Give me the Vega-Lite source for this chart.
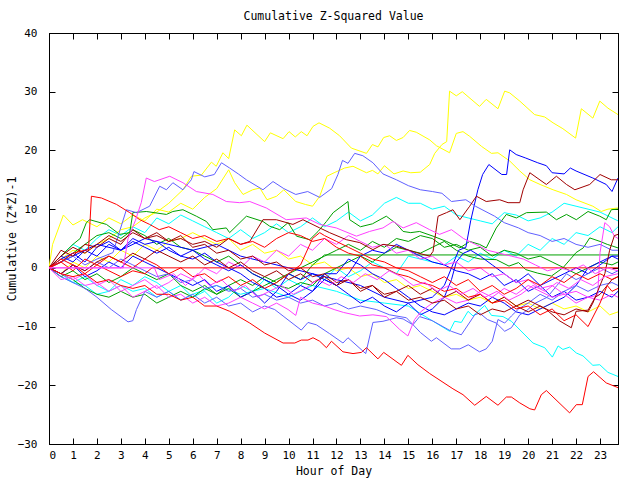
{
"$schema": "https://vega.github.io/schema/vega-lite/v6.json",
"width": 569, "height": 411,
"autosize": {"type": "none"},
"padding": {"left": 49, "top": 33, "right": 22, "bottom": 36},
"background": "white",
"title": {"text": "Cumulative Z-Squared Value", "font": "DejaVu Sans Mono", "fontSize": 11.5, "fontWeight": "normal", "color": "black", "anchor": "middle", "offset": 5},
"config": {
  "view": {"stroke": "black", "strokeWidth": 1},
  "axis": {"grid": false, "domainColor": "black", "tickColor": "black", "tickSize": -6, "labelFont": "DejaVu Sans Mono", "labelFontSize": 11, "labelColor": "black", "titleFont": "DejaVu Sans Mono", "titleFontSize": 11.5, "titleFontWeight": "normal", "titleColor": "black"}
},
"data": {"values": [
{"s":"c1","h":0,"v":0},{"s":"c1","h":0.5,"v":-1.5},{"s":"c1","h":1,"v":-2.5},{"s":"c1","h":1.5,"v":-3},{"s":"c1","h":2,"v":-4.5},{"s":"c1","h":2.5,"v":-4},{"s":"c1","h":3,"v":-3},{"s":"c1","h":3.5,"v":-4},{"s":"c1","h":4,"v":-3.5},{"s":"c1","h":4.5,"v":-5},{"s":"c1","h":5,"v":-4},{"s":"c1","h":5.5,"v":-5.5},{"s":"c1","h":6,"v":-4.5},{"s":"c1","h":7,"v":-3},{"s":"c1","h":8,"v":-4.5},{"s":"c1","h":9,"v":-3.5},{"s":"c1","h":10,"v":-5},{"s":"c1","h":11,"v":-3},{"s":"c1","h":12,"v":-4},{"s":"c1","h":13,"v":-5.5},{"s":"c1","h":14,"v":-6},{"s":"c1","h":15,"v":-6.5},{"s":"c1","h":15.47,"v":-7.7},{"s":"c1","h":16.72,"v":-10.8},{"s":"c1","h":16.93,"v":-9.1},{"s":"c1","h":17.21,"v":-9.3},{"s":"c1","h":17.49,"v":-7.4},{"s":"c1","h":17.7,"v":-8.2},{"s":"c1","h":18.19,"v":-6.4},{"s":"c1","h":18.47,"v":-8.1},{"s":"c1","h":18.95,"v":-8.3},{"s":"c1","h":19.3,"v":-9.1},{"s":"c1","h":20.2,"v":-12.8},{"s":"c1","h":20.69,"v":-13.6},{"s":"c1","h":21.01,"v":-15.2},{"s":"c1","h":21.25,"v":-13.3},{"s":"c1","h":21.45,"v":-13.9},{"s":"c1","h":21.73,"v":-13.5},{"s":"c1","h":22.01,"v":-14.5},{"s":"c1","h":22.29,"v":-15},{"s":"c1","h":22.7,"v":-16.6},{"s":"c1","h":22.99,"v":-16.5},{"s":"c1","h":23.33,"v":-17.8},{"s":"c1","h":23.75,"v":-18.5},
{"s":"c2","h":0,"v":0},{"s":"c2","h":0.5,"v":2},{"s":"c2","h":1,"v":4},{"s":"c2","h":1.5,"v":3},{"s":"c2","h":2,"v":5},{"s":"c2","h":2.5,"v":6.5},{"s":"c2","h":3,"v":5.5},{"s":"c2","h":3.5,"v":7},{"s":"c2","h":4,"v":6},{"s":"c2","h":4.5,"v":8.5},{"s":"c2","h":5,"v":7.5},{"s":"c2","h":5.5,"v":9},{"s":"c2","h":6,"v":8},{"s":"c2","h":6.5,"v":7},{"s":"c2","h":7,"v":6},{"s":"c2","h":7.5,"v":5},{"s":"c2","h":8,"v":6.5},{"s":"c2","h":8.5,"v":5},{"s":"c2","h":9,"v":6},{"s":"c2","h":9.5,"v":7.5},{"s":"c2","h":10,"v":6},{"s":"c2","h":10.5,"v":7},{"s":"c2","h":11,"v":8.5},{"s":"c2","h":11.5,"v":7},{"s":"c2","h":12,"v":8},{"s":"c2","h":12.5,"v":9.5},{"s":"c2","h":13,"v":8},{"s":"c2","h":13.5,"v":9},{"s":"c2","h":14,"v":11},{"s":"c2","h":14.5,"v":12},{"s":"c2","h":15,"v":11},{"s":"c2","h":15.5,"v":11},{"s":"c2","h":16,"v":10},{"s":"c2","h":16.5,"v":10.5},{"s":"c2","h":17,"v":9},{"s":"c2","h":17.5,"v":8.5},{"s":"c2","h":18,"v":8},{"s":"c2","h":18.5,"v":7.5},{"s":"c2","h":19,"v":9.4},{"s":"c2","h":19.5,"v":9},{"s":"c2","h":20,"v":8},{"s":"c2","h":20.5,"v":8.5},{"s":"c2","h":21,"v":9.5},{"s":"c2","h":21.5,"v":11},{"s":"c2","h":22,"v":10.5},{"s":"c2","h":22.5,"v":10},{"s":"c2","h":23,"v":9.5},{"s":"c2","h":23.5,"v":8.5},{"s":"c2","h":23.75,"v":8},
{"s":"c3","h":0,"v":0},{"s":"c3","h":0.5,"v":-1},{"s":"c3","h":1,"v":-2.5},{"s":"c3","h":1.5,"v":-1.5},{"s":"c3","h":2,"v":-3},{"s":"c3","h":2.5,"v":-4},{"s":"c3","h":3,"v":-2},{"s":"c3","h":3.5,"v":-3},{"s":"c3","h":4,"v":-1.5},{"s":"c3","h":4.5,"v":-2.5},{"s":"c3","h":5,"v":-4},{"s":"c3","h":5.5,"v":-3},{"s":"c3","h":6,"v":-5},{"s":"c3","h":6.5,"v":-4},{"s":"c3","h":7,"v":-6},{"s":"c3","h":7.5,"v":-5},{"s":"c3","h":8,"v":-3},{"s":"c3","h":8.5,"v":-4},{"s":"c3","h":9,"v":-2},{"s":"c3","h":9.5,"v":-3.5},{"s":"c3","h":10,"v":-2},{"s":"c3","h":10.5,"v":-3},{"s":"c3","h":11,"v":-1},{"s":"c3","h":11.5,"v":-2},{"s":"c3","h":12,"v":0},{"s":"c3","h":12.5,"v":-1.5},{"s":"c3","h":13,"v":-0.5},{"s":"c3","h":13.5,"v":1},{"s":"c3","h":14,"v":0},{"s":"c3","h":14.5,"v":-1},{"s":"c3","h":15,"v":2},{"s":"c3","h":15.5,"v":1.5},{"s":"c3","h":16,"v":1},{"s":"c3","h":16.5,"v":0.5},{"s":"c3","h":17,"v":2},{"s":"c3","h":17.5,"v":1},{"s":"c3","h":18,"v":2.5},{"s":"c3","h":18.5,"v":1.5},{"s":"c3","h":19,"v":3},{"s":"c3","h":19.5,"v":2},{"s":"c3","h":20,"v":4},{"s":"c3","h":20.5,"v":3},{"s":"c3","h":21,"v":5},{"s":"c3","h":21.5,"v":4},{"s":"c3","h":22,"v":6},{"s":"c3","h":22.5,"v":5.5},{"s":"c3","h":23,"v":7},{"s":"c3","h":23.5,"v":6},{"s":"c3","h":23.75,"v":7},
{"s":"y1","h":0,"v":0},{"s":"y1","h":0.5,"v":1.5},{"s":"y1","h":1,"v":3},{"s":"y1","h":1.5,"v":2.5},{"s":"y1","h":2,"v":4},{"s":"y1","h":2.5,"v":5},{"s":"y1","h":3,"v":6.5},{"s":"y1","h":3.5,"v":7},{"s":"y1","h":4,"v":8.5},{"s":"y1","h":4.5,"v":9.5},{"s":"y1","h":5,"v":11},{"s":"y1","h":5.59,"v":13.3},{"s":"y1","h":5.94,"v":15.6},{"s":"y1","h":6.36,"v":15.8},{"s":"y1","h":6.78,"v":18},{"s":"y1","h":6.98,"v":17.3},{"s":"y1","h":7.26,"v":19.6},{"s":"y1","h":7.5,"v":18.6},{"s":"y1","h":7.75,"v":23.5},{"s":"y1","h":8.03,"v":22.5},{"s":"y1","h":8.26,"v":24.3},{"s":"y1","h":9,"v":21.5},{"s":"y1","h":9.24,"v":23},{"s":"y1","h":9.77,"v":22},{"s":"y1","h":10.02,"v":23.2},{"s":"y1","h":10.28,"v":22.3},{"s":"y1","h":10.53,"v":23.2},{"s":"y1","h":10.77,"v":22.5},{"s":"y1","h":11.02,"v":24.1},{"s":"y1","h":11.27,"v":24.7},{"s":"y1","h":11.71,"v":23.8},{"s":"y1","h":12.13,"v":22.5},{"s":"y1","h":12.62,"v":20.4},{"s":"y1","h":13.25,"v":19.5},{"s":"y1","h":13.5,"v":21},{"s":"y1","h":13.73,"v":20.6},{"s":"y1","h":13.97,"v":22.2},{"s":"y1","h":14.22,"v":22.5},{"s":"y1","h":14.5,"v":21.7},{"s":"y1","h":14.78,"v":22.2},{"s":"y1","h":15.05,"v":23.4},{"s":"y1","h":15.33,"v":23.1},{"s":"y1","h":15.89,"v":21.8},{"s":"y1","h":16.17,"v":20.8},{"s":"y1","h":16.72,"v":19.6},{"s":"y1","h":17,"v":22.9},{"s":"y1","h":17.28,"v":23.2},{"s":"y1","h":17.56,"v":22.4},{"s":"y1","h":18.05,"v":20.7},{"s":"y1","h":18.47,"v":19.5},{"s":"y1","h":18.74,"v":19.6},{"s":"y1","h":19.23,"v":18.2},{"s":"y1","h":19.65,"v":16.5},{"s":"y1","h":20.07,"v":15},{"s":"y1","h":20.5,"v":14.2},{"s":"y1","h":21.04,"v":13.3},{"s":"y1","h":21.6,"v":12.5},{"s":"y1","h":22,"v":11.6},{"s":"y1","h":22.7,"v":10.5},{"s":"y1","h":23.05,"v":9.6},{"s":"y1","h":23.33,"v":10},{"s":"y1","h":23.75,"v":10.2},
{"s":"y2","h":0,"v":0},{"s":"y2","h":0.15,"v":4},{"s":"y2","h":0.6,"v":9},{"s":"y2","h":1,"v":7.3},{"s":"y2","h":1.4,"v":8.2},{"s":"y2","h":2,"v":7},{"s":"y2","h":2.5,"v":8.5},{"s":"y2","h":3,"v":7.5},{"s":"y2","h":3.5,"v":9},{"s":"y2","h":4,"v":8},{"s":"y2","h":4.5,"v":10},{"s":"y2","h":5,"v":9.5},{"s":"y2","h":5.5,"v":11},{"s":"y2","h":6,"v":10},{"s":"y2","h":6.5,"v":12},{"s":"y2","h":7,"v":13.5},{"s":"y2","h":7.5,"v":16.7},{"s":"y2","h":7.75,"v":14.5},{"s":"y2","h":8.1,"v":12.5},{"s":"y2","h":8.5,"v":13.3},{"s":"y2","h":8.8,"v":13.6},{"s":"y2","h":9.1,"v":11.6},{"s":"y2","h":9.5,"v":12.2},{"s":"y2","h":9.8,"v":13.3},{"s":"y2","h":10.3,"v":11.3},{"s":"y2","h":10.7,"v":10.8},{"s":"y2","h":11,"v":10.5},{"s":"y2","h":11.3,"v":12.2},{"s":"y2","h":11.6,"v":15.6},{"s":"y2","h":11.9,"v":16.2},{"s":"y2","h":12.34,"v":17},{"s":"y2","h":12.69,"v":17.3},{"s":"y2","h":13.25,"v":16.2},{"s":"y2","h":13.5,"v":16.6},{"s":"y2","h":13.73,"v":16},{"s":"y2","h":14,"v":17.4},{"s":"y2","h":14.4,"v":16},{"s":"y2","h":14.78,"v":16.5},{"s":"y2","h":15.1,"v":16.2},{"s":"y2","h":15.5,"v":16.3},{"s":"y2","h":15.89,"v":17.6},{"s":"y2","h":16.1,"v":19.5},{"s":"y2","h":16.4,"v":21},{"s":"y2","h":16.6,"v":21.5},{"s":"y2","h":16.72,"v":30.1},{"s":"y2","h":17,"v":29.3},{"s":"y2","h":17.25,"v":30},{"s":"y2","h":17.97,"v":27.5},{"s":"y2","h":18.25,"v":28.7},{"s":"y2","h":18.74,"v":27.1},{"s":"y2","h":19.02,"v":30.1},{"s":"y2","h":19.23,"v":29.8},{"s":"y2","h":19.65,"v":28.4},{"s":"y2","h":20.27,"v":26.1},{"s":"y2","h":20.69,"v":25.7},{"s":"y2","h":21.04,"v":24.7},{"s":"y2","h":21.45,"v":23.7},{"s":"y2","h":21.98,"v":22.1},{"s":"y2","h":22.22,"v":27.1},{"s":"y2","h":22.7,"v":25.5},{"s":"y2","h":22.99,"v":28.4},{"s":"y2","h":23.33,"v":27.2},{"s":"y2","h":23.75,"v":26.1},
{"s":"y3","h":0,"v":0},{"s":"y3","h":0.5,"v":-1},{"s":"y3","h":1,"v":1},{"s":"y3","h":1.5,"v":0},{"s":"y3","h":2,"v":2},{"s":"y3","h":2.5,"v":1},{"s":"y3","h":3,"v":3},{"s":"y3","h":3.5,"v":2},{"s":"y3","h":4,"v":4},{"s":"y3","h":4.5,"v":3},{"s":"y3","h":5,"v":4.5},{"s":"y3","h":5.5,"v":5},{"s":"y3","h":6,"v":6},{"s":"y3","h":6.5,"v":5},{"s":"y3","h":7,"v":4},{"s":"y3","h":7.5,"v":5},{"s":"y3","h":8,"v":3},{"s":"y3","h":8.5,"v":4},{"s":"y3","h":9,"v":2.5},{"s":"y3","h":9.5,"v":3},{"s":"y3","h":10,"v":1.5},{"s":"y3","h":10.5,"v":2},{"s":"y3","h":11,"v":0.5},{"s":"y3","h":11.5,"v":1},{"s":"y3","h":12,"v":-0.5},{"s":"y3","h":12.5,"v":0},{"s":"y3","h":13,"v":-1.5},{"s":"y3","h":13.5,"v":-1},{"s":"y3","h":14,"v":-2.5},{"s":"y3","h":14.5,"v":-2},{"s":"y3","h":15,"v":-3.5},{"s":"y3","h":15.5,"v":-3},{"s":"y3","h":16,"v":-4},{"s":"y3","h":16.5,"v":-5},{"s":"y3","h":17,"v":-4.5},{"s":"y3","h":17.5,"v":-5.5},{"s":"y3","h":18,"v":-5},{"s":"y3","h":18.5,"v":-6},{"s":"y3","h":19,"v":-5},{"s":"y3","h":19.5,"v":-6.5},{"s":"y3","h":20,"v":-6},{"s":"y3","h":20.5,"v":-7},{"s":"y3","h":21,"v":-6},{"s":"y3","h":21.5,"v":-7},{"s":"y3","h":22,"v":-6.5},{"s":"y3","h":22.5,"v":-7.5},{"s":"y3","h":23,"v":-6.5},{"s":"y3","h":23.4,"v":-8},{"s":"y3","h":23.75,"v":-7.5},
{"s":"g1","h":0,"v":0},{"s":"g1","h":0.5,"v":2},{"s":"g1","h":1,"v":4},{"s":"g1","h":1.3,"v":5},{"s":"g1","h":1.56,"v":7.7},{"s":"g1","h":1.7,"v":8.2},{"s":"g1","h":2.4,"v":7.4},{"s":"g1","h":2.95,"v":5.7},{"s":"g1","h":3.37,"v":6},{"s":"g1","h":3.5,"v":9.4},{"s":"g1","h":4.06,"v":9.6},{"s":"g1","h":4.9,"v":9.1},{"s":"g1","h":5.17,"v":9.6},{"s":"g1","h":5.59,"v":9.9},{"s":"g1","h":6.15,"v":8.8},{"s":"g1","h":6.57,"v":7.9},{"s":"g1","h":6.84,"v":6.5},{"s":"g1","h":7.4,"v":6.8},{"s":"g1","h":7.54,"v":6},{"s":"g1","h":8.24,"v":8.8},{"s":"g1","h":8.93,"v":7.9},{"s":"g1","h":9.21,"v":7.1},{"s":"g1","h":9.63,"v":6.5},{"s":"g1","h":9.98,"v":7.7},{"s":"g1","h":10.33,"v":5.4},{"s":"g1","h":10.88,"v":4.8},{"s":"g1","h":11.23,"v":6.2},{"s":"g1","h":11.58,"v":7.9},{"s":"g1","h":11.86,"v":9.4},{"s":"g1","h":12.48,"v":11.3},{"s":"g1","h":12.55,"v":8.2},{"s":"g1","h":13,"v":7},{"s":"g1","h":13.5,"v":7.5},{"s":"g1","h":14.08,"v":8.8},{"s":"g1","h":14.5,"v":7.5},{"s":"g1","h":14.78,"v":6.2},{"s":"g1","h":15.1,"v":6},{"s":"g1","h":15.47,"v":6.2},{"s":"g1","h":16.03,"v":5.4},{"s":"g1","h":16.59,"v":4.5},{"s":"g1","h":17.15,"v":3.4},{"s":"g1","h":17.56,"v":4.5},{"s":"g1","h":17.97,"v":4},{"s":"g1","h":18.25,"v":3.4},{"s":"g1","h":18.67,"v":6.8},{"s":"g1","h":19.09,"v":9.1},{"s":"g1","h":19.51,"v":8.5},{"s":"g1","h":19.93,"v":9.4},{"s":"g1","h":20.76,"v":9.5},{"s":"g1","h":21.18,"v":8.2},{"s":"g1","h":21.6,"v":9.1},{"s":"g1","h":22.01,"v":8.2},{"s":"g1","h":22.5,"v":9.6},{"s":"g1","h":22.99,"v":8.8},{"s":"g1","h":23.26,"v":8.2},{"s":"g1","h":23.47,"v":9.9},{"s":"g1","h":23.75,"v":10},
{"s":"g2","h":0,"v":0},{"s":"g2","h":0.5,"v":-1.5},{"s":"g2","h":1,"v":-0.5},{"s":"g2","h":1.5,"v":-2},{"s":"g2","h":2,"v":-1},{"s":"g2","h":2.5,"v":-2.5},{"s":"g2","h":3,"v":-1.5},{"s":"g2","h":3.5,"v":0},{"s":"g2","h":4,"v":-1},{"s":"g2","h":4.5,"v":-2},{"s":"g2","h":5,"v":-1},{"s":"g2","h":5.5,"v":-3},{"s":"g2","h":6,"v":-4},{"s":"g2","h":6.5,"v":-3},{"s":"g2","h":7,"v":-4.5},{"s":"g2","h":7.5,"v":-3.5},{"s":"g2","h":8,"v":-5},{"s":"g2","h":8.5,"v":-4},{"s":"g2","h":9,"v":-3},{"s":"g2","h":9.5,"v":-2},{"s":"g2","h":10,"v":-1},{"s":"g2","h":10.5,"v":-2},{"s":"g2","h":11,"v":0.5},{"s":"g2","h":11.3,"v":1.5},{"s":"g2","h":11.5,"v":2.2},{"s":"g2","h":23.75,"v":2.2},
{"s":"g3","h":0,"v":0},{"s":"g3","h":0.5,"v":1},{"s":"g3","h":1,"v":2.5},{"s":"g3","h":1.5,"v":4},{"s":"g3","h":2,"v":5.5},{"s":"g3","h":2.5,"v":6},{"s":"g3","h":3,"v":5},{"s":"g3","h":3.5,"v":6.5},{"s":"g3","h":4,"v":5.5},{"s":"g3","h":4.5,"v":4},{"s":"g3","h":5,"v":5},{"s":"g3","h":5.5,"v":3.5},{"s":"g3","h":6,"v":3},{"s":"g3","h":6.5,"v":2},{"s":"g3","h":7,"v":1},{"s":"g3","h":7.5,"v":2},{"s":"g3","h":8,"v":0.5},{"s":"g3","h":8.5,"v":-1},{"s":"g3","h":9,"v":-2},{"s":"g3","h":9.5,"v":-3},{"s":"g3","h":10,"v":-3.5},{"s":"g3","h":10.5,"v":-2.5},{"s":"g3","h":11,"v":-3},{"s":"g3","h":11.5,"v":-1},{"s":"g3","h":12,"v":0},{"s":"g3","h":12.5,"v":1},{"s":"g3","h":13,"v":2},{"s":"g3","h":13.5,"v":1},{"s":"g3","h":14,"v":2.5},{"s":"g3","h":14.5,"v":3.5},{"s":"g3","h":15,"v":3},{"s":"g3","h":15.5,"v":2.5},{"s":"g3","h":16,"v":3.5},{"s":"g3","h":16.5,"v":4.5},{"s":"g3","h":17,"v":3},{"s":"g3","h":17.5,"v":2},{"s":"g3","h":18,"v":1.5},{"s":"g3","h":18.67,"v":1.4},{"s":"g3","h":19.2,"v":0.3},{"s":"g3","h":19.6,"v":0.9},{"s":"g3","h":19.9,"v":-0.3},{"s":"g3","h":20.4,"v":-0.9},{"s":"g3","h":20.97,"v":-1.4},{"s":"g3","h":21.45,"v":0},{"s":"g3","h":22,"v":2.6},{"s":"g3","h":22.3,"v":3.4},{"s":"g3","h":22.57,"v":5.1},{"s":"g3","h":23,"v":4.5},{"s":"g3","h":23.3,"v":4},{"s":"g3","h":23.75,"v":3.4},
{"s":"g4","h":0,"v":0},{"s":"g4","h":0.5,"v":-1},{"s":"g4","h":1,"v":-2},{"s":"g4","h":1.5,"v":-3.5},{"s":"g4","h":2,"v":-4.5},{"s":"g4","h":2.5,"v":-5},{"s":"g4","h":3,"v":-4},{"s":"g4","h":3.5,"v":-5},{"s":"g4","h":4,"v":-4.5},{"s":"g4","h":4.5,"v":-6},{"s":"g4","h":5,"v":-5},{"s":"g4","h":5.5,"v":-4},{"s":"g4","h":6,"v":-5},{"s":"g4","h":6.5,"v":-3.5},{"s":"g4","h":7,"v":-4.5},{"s":"g4","h":7.5,"v":-3},{"s":"g4","h":8,"v":-2},{"s":"g4","h":8.5,"v":-3},{"s":"g4","h":9,"v":-1.5},{"s":"g4","h":9.5,"v":-2.5},{"s":"g4","h":10,"v":-1},{"s":"g4","h":10.5,"v":0},{"s":"g4","h":11,"v":1},{"s":"g4","h":11.5,"v":2},{"s":"g4","h":12,"v":3},{"s":"g4","h":12.5,"v":4},{"s":"g4","h":13,"v":3},{"s":"g4","h":13.5,"v":4.5},{"s":"g4","h":14,"v":3.5},{"s":"g4","h":14.5,"v":5},{"s":"g4","h":15,"v":4.5},{"s":"g4","h":15.5,"v":5.5},{"s":"g4","h":16,"v":5},{"s":"g4","h":16.5,"v":3.5},{"s":"g4","h":17,"v":4},{"s":"g4","h":17.5,"v":3},{"s":"g4","h":18,"v":3.5},{"s":"g4","h":18.5,"v":2},{"s":"g4","h":19,"v":3},{"s":"g4","h":19.5,"v":2.5},{"s":"g4","h":20,"v":1.5},{"s":"g4","h":20.5,"v":2},{"s":"g4","h":21,"v":1},{"s":"g4","h":21.5,"v":0},{"s":"g4","h":22,"v":-1},{"s":"g4","h":22.5,"v":0},{"s":"g4","h":23,"v":1},{"s":"g4","h":23.5,"v":0.5},{"s":"g4","h":23.75,"v":1},
{"s":"b1","h":0,"v":0},{"s":"b1","h":1,"v":2},{"s":"b1","h":2,"v":4},{"s":"b1","h":3,"v":3},{"s":"b1","h":4,"v":5},{"s":"b1","h":5,"v":4},{"s":"b1","h":6,"v":3},{"s":"b1","h":7,"v":4},{"s":"b1","h":8,"v":2},{"s":"b1","h":9,"v":1},{"s":"b1","h":10,"v":0},{"s":"b1","h":11,"v":-1},{"s":"b1","h":12,"v":-2},{"s":"b1","h":13,"v":-3},{"s":"b1","h":14,"v":-5},{"s":"b1","h":15,"v":-6},{"s":"b1","h":16,"v":-5},{"s":"b1","h":16.5,"v":-3},{"s":"b1","h":16.8,"v":0},{"s":"b1","h":17.1,"v":3},{"s":"b1","h":17.4,"v":3.5},{"s":"b1","h":17.6,"v":8},{"s":"b1","h":17.9,"v":13.3},{"s":"b1","h":18.1,"v":15.9},{"s":"b1","h":18.36,"v":17.6},{"s":"b1","h":18.9,"v":15.9},{"s":"b1","h":19.1,"v":15.9},{"s":"b1","h":19.23,"v":20.1},{"s":"b1","h":19.5,"v":19.3},{"s":"b1","h":19.9,"v":18.7},{"s":"b1","h":20.4,"v":17.9},{"s":"b1","h":20.76,"v":17.4},{"s":"b1","h":21,"v":16.2},{"s":"b1","h":21.5,"v":16},{"s":"b1","h":21.76,"v":17},{"s":"b1","h":22,"v":16.5},{"s":"b1","h":22.7,"v":15.3},{"s":"b1","h":23.26,"v":14.2},{"s":"b1","h":23.5,"v":13},{"s":"b1","h":23.75,"v":15.3},
{"s":"b2","h":0,"v":0},{"s":"b2","h":0.5,"v":1.5},{"s":"b2","h":1,"v":2.5},{"s":"b2","h":1.5,"v":1},{"s":"b2","h":2,"v":3.5},{"s":"b2","h":2.5,"v":4.5},{"s":"b2","h":3,"v":3},{"s":"b2","h":3.5,"v":5},{"s":"b2","h":4,"v":4},{"s":"b2","h":4.5,"v":4.5},{"s":"b2","h":5,"v":3},{"s":"b2","h":5.5,"v":2},{"s":"b2","h":6,"v":3},{"s":"b2","h":6.5,"v":1.5},{"s":"b2","h":7,"v":0.5},{"s":"b2","h":7.5,"v":-0.5},{"s":"b2","h":8,"v":0.5},{"s":"b2","h":8.5,"v":-1},{"s":"b2","h":9,"v":-2},{"s":"b2","h":9.5,"v":-3},{"s":"b2","h":10,"v":-4.5},{"s":"b2","h":10.5,"v":-3},{"s":"b2","h":11,"v":-4},{"s":"b2","h":11.5,"v":-2},{"s":"b2","h":12,"v":-3},{"s":"b2","h":12.5,"v":-4.5},{"s":"b2","h":13,"v":-6},{"s":"b2","h":13.5,"v":-5},{"s":"b2","h":14,"v":-6.5},{"s":"b2","h":14.5,"v":-7.5},{"s":"b2","h":15,"v":-6},{"s":"b2","h":15.5,"v":-8},{"s":"b2","h":16,"v":-7},{"s":"b2","h":16.5,"v":-5},{"s":"b2","h":16.8,"v":-2},{"s":"b2","h":17,"v":1},{"s":"b2","h":17.3,"v":2.5},{"s":"b2","h":17.6,"v":3},{"s":"b2","h":18,"v":2},{"s":"b2","h":18.5,"v":0.5},{"s":"b2","h":19,"v":-1},{"s":"b2","h":19.5,"v":-2.5},{"s":"b2","h":20,"v":-1},{"s":"b2","h":20.5,"v":-3},{"s":"b2","h":21,"v":-2},{"s":"b2","h":21.5,"v":-1},{"s":"b2","h":22,"v":0},{"s":"b2","h":22.5,"v":-1},{"s":"b2","h":23,"v":0.5},{"s":"b2","h":23.5,"v":2},{"s":"b2","h":23.75,"v":2},
{"s":"b3","h":0,"v":0},{"s":"b3","h":0.5,"v":-1},{"s":"b3","h":1,"v":0.5},{"s":"b3","h":1.5,"v":-1.5},{"s":"b3","h":2,"v":-0.5},{"s":"b3","h":2.5,"v":1},{"s":"b3","h":3,"v":0},{"s":"b3","h":3.5,"v":2},{"s":"b3","h":4,"v":1},{"s":"b3","h":4.5,"v":0},{"s":"b3","h":5,"v":-1},{"s":"b3","h":5.5,"v":-2},{"s":"b3","h":6,"v":-3},{"s":"b3","h":6.5,"v":-2},{"s":"b3","h":7,"v":-4},{"s":"b3","h":7.5,"v":-3},{"s":"b3","h":8,"v":-5},{"s":"b3","h":8.5,"v":-4},{"s":"b3","h":9,"v":-6},{"s":"b3","h":9.5,"v":-4},{"s":"b3","h":10,"v":-1},{"s":"b3","h":10.5,"v":-2},{"s":"b3","h":11,"v":-1},{"s":"b3","h":11.5,"v":-2},{"s":"b3","h":12,"v":-3},{"s":"b3","h":12.5,"v":-1},{"s":"b3","h":13,"v":2},{"s":"b3","h":13.5,"v":3},{"s":"b3","h":14,"v":2.5},{"s":"b3","h":14.5,"v":4},{"s":"b3","h":15,"v":3},{"s":"b3","h":15.5,"v":2},{"s":"b3","h":16,"v":1},{"s":"b3","h":16.5,"v":0.5},{"s":"b3","h":17,"v":-0.5},{"s":"b3","h":17.5,"v":-1},{"s":"b3","h":18,"v":-2},{"s":"b3","h":18.5,"v":-1},{"s":"b3","h":19,"v":-3},{"s":"b3","h":19.5,"v":-2},{"s":"b3","h":20,"v":-4},{"s":"b3","h":20.5,"v":-3},{"s":"b3","h":21,"v":-5},{"s":"b3","h":21.5,"v":-4},{"s":"b3","h":22,"v":-5.5},{"s":"b3","h":22.5,"v":-5},{"s":"b3","h":23,"v":-4},{"s":"b3","h":23.5,"v":-5},{"s":"b3","h":23.75,"v":-4},
{"s":"b4","h":0,"v":0},{"s":"b4","h":0.5,"v":2},{"s":"b4","h":1,"v":1},{"s":"b4","h":1.5,"v":3},{"s":"b4","h":2,"v":2},{"s":"b4","h":2.5,"v":4},{"s":"b4","h":3,"v":3},{"s":"b4","h":3.5,"v":4.5},{"s":"b4","h":4,"v":3.5},{"s":"b4","h":4.5,"v":2.5},{"s":"b4","h":5,"v":3.5},{"s":"b4","h":5.5,"v":2},{"s":"b4","h":6,"v":1.5},{"s":"b4","h":6.5,"v":2.5},{"s":"b4","h":7,"v":1},{"s":"b4","h":7.5,"v":0},{"s":"b4","h":8,"v":-1},{"s":"b4","h":8.5,"v":-2.5},{"s":"b4","h":9,"v":-3.5},{"s":"b4","h":9.5,"v":-5},{"s":"b4","h":10,"v":-4.5},{"s":"b4","h":10.5,"v":-5.5},{"s":"b4","h":11,"v":-4},{"s":"b4","h":11.5,"v":-1},{"s":"b4","h":12,"v":-1},{"s":"b4","h":12.5,"v":1.5},{"s":"b4","h":13,"v":0.5},{"s":"b4","h":13.5,"v":-1},{"s":"b4","h":14,"v":-2},{"s":"b4","h":14.5,"v":-3.5},{"s":"b4","h":15,"v":-5},{"s":"b4","h":15.5,"v":-6.5},{"s":"b4","h":16,"v":-7.5},{"s":"b4","h":16.5,"v":-8},{"s":"b4","h":17,"v":-7},{"s":"b4","h":17.5,"v":-6},{"s":"b4","h":18,"v":-6.5},{"s":"b4","h":18.5,"v":-5},{"s":"b4","h":19,"v":-6},{"s":"b4","h":19.5,"v":-7.5},{"s":"b4","h":20,"v":-8},{"s":"b4","h":20.5,"v":-7},{"s":"b4","h":21,"v":-6},{"s":"b4","h":21.5,"v":-5},{"s":"b4","h":22,"v":-3},{"s":"b4","h":22.5,"v":0},{"s":"b4","h":23,"v":1},{"s":"b4","h":23.5,"v":2},{"s":"b4","h":23.75,"v":1.5},
{"s":"l1","h":0,"v":0},{"s":"l1","h":0.5,"v":-1.5},{"s":"l1","h":1,"v":-2.5},{"s":"l1","h":1.5,"v":-3.5},{"s":"l1","h":2,"v":-5},{"s":"l1","h":2.6,"v":-7.1},{"s":"l1","h":3.3,"v":-9.2},{"s":"l1","h":3.5,"v":-9},{"s":"l1","h":3.65,"v":-7.1},{"s":"l1","h":4,"v":-4},{"s":"l1","h":4.5,"v":-5},{"s":"l1","h":5,"v":-4},{"s":"l1","h":5.5,"v":-5.5},{"s":"l1","h":6,"v":-4.5},{"s":"l1","h":6.5,"v":-6},{"s":"l1","h":7,"v":-5},{"s":"l1","h":7.5,"v":-6.5},{"s":"l1","h":8,"v":-6},{"s":"l1","h":8.5,"v":-7.5},{"s":"l1","h":9,"v":-6.5},{"s":"l1","h":9.42,"v":-7.1},{"s":"l1","h":9.77,"v":-8.2},{"s":"l1","h":10.53,"v":-10.6},{"s":"l1","h":10.81,"v":-9.3},{"s":"l1","h":11.16,"v":-9.7},{"s":"l1","h":11.71,"v":-11.2},{"s":"l1","h":12.27,"v":-12.8},{"s":"l1","h":12.48,"v":-11.9},{"s":"l1","h":13.22,"v":-14.6},{"s":"l1","h":13.52,"v":-9.3},{"s":"l1","h":13.94,"v":-9.1},{"s":"l1","h":14.5,"v":-8.5},{"s":"l1","h":14.78,"v":-8.7},{"s":"l1","h":15.19,"v":-9.7},{"s":"l1","h":15.47,"v":-8.3},{"s":"l1","h":16,"v":-9},{"s":"l1","h":16.79,"v":-10.8},{"s":"l1","h":17.21,"v":-11.4},{"s":"l1","h":17.77,"v":-8},{"s":"l1","h":17.97,"v":-7.7},{"s":"l1","h":18.3,"v":-8.8},{"s":"l1","h":18.67,"v":-9.4},{"s":"l1","h":19.02,"v":-10.8},{"s":"l1","h":19.3,"v":-10.2},{"s":"l1","h":19.65,"v":-8},{"s":"l1","h":19.9,"v":-7.4},{"s":"l1","h":20.3,"v":-6},{"s":"l1","h":20.8,"v":-5},{"s":"l1","h":21.2,"v":-3},{"s":"l1","h":21.6,"v":-1},{"s":"l1","h":22,"v":-2},{"s":"l1","h":22.5,"v":-1},{"s":"l1","h":23,"v":0},{"s":"l1","h":23.5,"v":-1},{"s":"l1","h":23.75,"v":-0.5},
{"s":"l2","h":0,"v":0},{"s":"l2","h":0.5,"v":-1},{"s":"l2","h":1,"v":0.5},{"s":"l2","h":1.5,"v":-0.5},{"s":"l2","h":2,"v":1},{"s":"l2","h":2.5,"v":0},{"s":"l2","h":3,"v":1.5},{"s":"l2","h":3.5,"v":0.5},{"s":"l2","h":4,"v":-0.5},{"s":"l2","h":4.5,"v":-1.5},{"s":"l2","h":5,"v":-1},{"s":"l2","h":5.5,"v":-2.5},{"s":"l2","h":6,"v":-2},{"s":"l2","h":6.5,"v":-3.5},{"s":"l2","h":7,"v":-3},{"s":"l2","h":7.5,"v":-4},{"s":"l2","h":8,"v":-3.5},{"s":"l2","h":8.5,"v":-5},{"s":"l2","h":9,"v":-4.5},{"s":"l2","h":9.5,"v":-5.5},{"s":"l2","h":10,"v":-5},{"s":"l2","h":10.5,"v":-6},{"s":"l2","h":11,"v":-5.5},{"s":"l2","h":11.5,"v":-6.5},{"s":"l2","h":12,"v":-6},{"s":"l2","h":12.5,"v":-7},{"s":"l2","h":13,"v":-6.5},{"s":"l2","h":13.66,"v":-7.1},{"s":"l2","h":14.22,"v":-8},{"s":"l2","h":14.92,"v":-8.5},{"s":"l2","h":15.5,"v":-11},{"s":"l2","h":15.96,"v":-12.5},{"s":"l2","h":16.17,"v":-11.9},{"s":"l2","h":16.79,"v":-13.8},{"s":"l2","h":17.15,"v":-13.8},{"s":"l2","h":17.5,"v":-13.1},{"s":"l2","h":17.97,"v":-14.3},{"s":"l2","h":18.25,"v":-13.8},{"s":"l2","h":18.5,"v":-12.5},{"s":"l2","h":18.74,"v":-8.8},{"s":"l2","h":19.02,"v":-9.4},{"s":"l2","h":19.3,"v":-8.2},{"s":"l2","h":19.6,"v":-7},{"s":"l2","h":20,"v":-6},{"s":"l2","h":20.5,"v":-4.5},{"s":"l2","h":21,"v":-5.5},{"s":"l2","h":21.5,"v":-4},{"s":"l2","h":22,"v":-3},{"s":"l2","h":22.5,"v":-4},{"s":"l2","h":23,"v":-3},{"s":"l2","h":23.5,"v":-2.5},{"s":"l2","h":23.75,"v":-3},
{"s":"l3","h":0,"v":0},{"s":"l3","h":0.5,"v":1},{"s":"l3","h":1,"v":2},{"s":"l3","h":1.5,"v":0.5},{"s":"l3","h":2,"v":1.5},{"s":"l3","h":2.67,"v":2.6},{"s":"l3","h":3.23,"v":9.9},{"s":"l3","h":3.65,"v":9.4},{"s":"l3","h":4.2,"v":10.5},{"s":"l3","h":4.62,"v":13.9},{"s":"l3","h":4.9,"v":13.3},{"s":"l3","h":5.17,"v":14.5},{"s":"l3","h":5.59,"v":13.3},{"s":"l3","h":5.94,"v":15},{"s":"l3","h":6.05,"v":16.4},{"s":"l3","h":6.5,"v":15.5},{"s":"l3","h":6.9,"v":15.9},{"s":"l3","h":7.2,"v":17.9},{"s":"l3","h":7.54,"v":17},{"s":"l3","h":7.9,"v":16},{"s":"l3","h":8.24,"v":15},{"s":"l3","h":8.93,"v":13.3},{"s":"l3","h":9.35,"v":14.7},{"s":"l3","h":9.8,"v":13.5},{"s":"l3","h":10.3,"v":12.5},{"s":"l3","h":10.8,"v":13},{"s":"l3","h":11.3,"v":12},{"s":"l3","h":11.8,"v":13.5},{"s":"l3","h":12.06,"v":15.9},{"s":"l3","h":12.25,"v":18.3},{"s":"l3","h":12.48,"v":17.8},{"s":"l3","h":12.76,"v":19.5},{"s":"l3","h":13.1,"v":19.1},{"s":"l3","h":13.52,"v":17.9},{"s":"l3","h":13.94,"v":16},{"s":"l3","h":14.5,"v":15},{"s":"l3","h":15,"v":14},{"s":"l3","h":15.5,"v":13.3},{"s":"l3","h":16,"v":13},{"s":"l3","h":16.4,"v":12.7},{"s":"l3","h":16.8,"v":11.3},{"s":"l3","h":17.4,"v":11.6},{"s":"l3","h":17.8,"v":10.5},{"s":"l3","h":18.6,"v":8.8},{"s":"l3","h":19,"v":7.7},{"s":"l3","h":19.6,"v":6.8},{"s":"l3","h":20,"v":6},{"s":"l3","h":20.5,"v":5.5},{"s":"l3","h":21,"v":4.5},{"s":"l3","h":21.5,"v":5},{"s":"l3","h":22,"v":4},{"s":"l3","h":22.5,"v":3.5},{"s":"l3","h":23,"v":4},{"s":"l3","h":23.5,"v":3},{"s":"l3","h":23.75,"v":3},
{"s":"m2","h":0,"v":0},{"s":"m2","h":0.5,"v":-2},{"s":"m2","h":1,"v":-1.5},{"s":"m2","h":1.5,"v":-3},{"s":"m2","h":2,"v":-2.5},{"s":"m2","h":2.5,"v":-4},{"s":"m2","h":3,"v":-3},{"s":"m2","h":3.5,"v":-5},{"s":"m2","h":4,"v":-4},{"s":"m2","h":4.5,"v":-3},{"s":"m2","h":5,"v":-5},{"s":"m2","h":5.5,"v":-4.5},{"s":"m2","h":6,"v":-6},{"s":"m2","h":6.5,"v":-5},{"s":"m2","h":7,"v":-6.5},{"s":"m2","h":7.5,"v":-6},{"s":"m2","h":8,"v":-5},{"s":"m2","h":8.5,"v":-6},{"s":"m2","h":9,"v":-7},{"s":"m2","h":9.5,"v":-6},{"s":"m2","h":9.98,"v":-7.1},{"s":"m2","h":10.3,"v":-8.1},{"s":"m2","h":10.5,"v":-5},{"s":"m2","h":11,"v":-6},{"s":"m2","h":11.5,"v":-6.5},{"s":"m2","h":11.9,"v":-7.1},{"s":"m2","h":12.3,"v":-7.6},{"s":"m2","h":12.97,"v":-8.2},{"s":"m2","h":13.52,"v":-8},{"s":"m2","h":14.08,"v":-8.3},{"s":"m2","h":14.64,"v":-10.5},{"s":"m2","h":14.98,"v":-11.6},{"s":"m2","h":15.26,"v":-8.8},{"s":"m2","h":15.54,"v":-7.4},{"s":"m2","h":16,"v":-6},{"s":"m2","h":16.5,"v":-5},{"s":"m2","h":17,"v":-6},{"s":"m2","h":17.5,"v":-5.5},{"s":"m2","h":18,"v":-4},{"s":"m2","h":18.5,"v":-5},{"s":"m2","h":19,"v":-3.5},{"s":"m2","h":19.5,"v":-4.5},{"s":"m2","h":20,"v":-3},{"s":"m2","h":20.5,"v":-4},{"s":"m2","h":21,"v":-5},{"s":"m2","h":21.5,"v":-4.5},{"s":"m2","h":22,"v":-6},{"s":"m2","h":22.5,"v":-5},{"s":"m2","h":23,"v":-5.5},{"s":"m2","h":23.5,"v":-4.5},{"s":"m2","h":23.75,"v":-5},
{"s":"m4","h":0,"v":0},{"s":"m4","h":0.5,"v":-1},{"s":"m4","h":1,"v":-2},{"s":"m4","h":1.5,"v":-1},{"s":"m4","h":2,"v":-3},{"s":"m4","h":2.5,"v":-2},{"s":"m4","h":3,"v":-4},{"s":"m4","h":3.5,"v":-3},{"s":"m4","h":4,"v":-2},{"s":"m4","h":4.5,"v":-3.5},{"s":"m4","h":5,"v":-2.5},{"s":"m4","h":5.5,"v":-1},{"s":"m4","h":6,"v":-2},{"s":"m4","h":6.5,"v":0},{"s":"m4","h":7,"v":-1},{"s":"m4","h":7.5,"v":1},{"s":"m4","h":8,"v":0},{"s":"m4","h":8.5,"v":2},{"s":"m4","h":9,"v":1},{"s":"m4","h":9.5,"v":3},{"s":"m4","h":10,"v":2},{"s":"m4","h":10.5,"v":4},{"s":"m4","h":11,"v":3},{"s":"m4","h":11.5,"v":5},{"s":"m4","h":12,"v":4},{"s":"m4","h":12.5,"v":5.5},{"s":"m4","h":13,"v":4.5},{"s":"m4","h":13.5,"v":3.5},{"s":"m4","h":14,"v":4},{"s":"m4","h":14.5,"v":2.5},{"s":"m4","h":15,"v":3},{"s":"m4","h":15.5,"v":1.5},{"s":"m4","h":16,"v":2},{"s":"m4","h":16.5,"v":0.5},{"s":"m4","h":17,"v":1},{"s":"m4","h":17.5,"v":-0.5},{"s":"m4","h":18,"v":0},{"s":"m4","h":18.5,"v":-1.5},{"s":"m4","h":19,"v":-1},{"s":"m4","h":19.5,"v":-2.5},{"s":"m4","h":20,"v":-2},{"s":"m4","h":20.5,"v":-3.5},{"s":"m4","h":21,"v":-3},{"s":"m4","h":21.5,"v":-4.5},{"s":"m4","h":22,"v":-4},{"s":"m4","h":22.5,"v":-5},{"s":"m4","h":22.9,"v":-4.7},{"s":"m4","h":23,"v":2.6},{"s":"m4","h":23.2,"v":7.7},{"s":"m4","h":23.4,"v":7},{"s":"m4","h":23.6,"v":5.4},{"s":"m4","h":23.75,"v":5},
{"s":"d1","h":0,"v":0},{"s":"d1","h":0.5,"v":2},{"s":"d1","h":1,"v":3.5},{"s":"d1","h":1.5,"v":2.5},{"s":"d1","h":2,"v":4},{"s":"d1","h":2.5,"v":5.5},{"s":"d1","h":3,"v":4.5},{"s":"d1","h":3.5,"v":6},{"s":"d1","h":4,"v":5},{"s":"d1","h":4.5,"v":5.5},{"s":"d1","h":5,"v":4.5},{"s":"d1","h":5.5,"v":5},{"s":"d1","h":6,"v":4},{"s":"d1","h":6.5,"v":4.5},{"s":"d1","h":7,"v":3.5},{"s":"d1","h":7.5,"v":5},{"s":"d1","h":8,"v":4},{"s":"d1","h":8.38,"v":4.5},{"s":"d1","h":8.93,"v":8.2},{"s":"d1","h":9.49,"v":8.2},{"s":"d1","h":10.18,"v":7.4},{"s":"d1","h":10.6,"v":8.2},{"s":"d1","h":11.3,"v":6.8},{"s":"d1","h":11.71,"v":6},{"s":"d1","h":12.41,"v":4.8},{"s":"d1","h":12.97,"v":4.3},{"s":"d1","h":13.52,"v":3.1},{"s":"d1","h":13.94,"v":4},{"s":"d1","h":14.5,"v":3.7},{"s":"d1","h":15.33,"v":2.6},{"s":"d1","h":15.89,"v":2},{"s":"d1","h":16.03,"v":2.8},{"s":"d1","h":16.24,"v":8.8},{"s":"d1","h":16.59,"v":9.4},{"s":"d1","h":16.86,"v":9.9},{"s":"d1","h":17.15,"v":8.2},{"s":"d1","h":17.56,"v":10.5},{"s":"d1","h":17.84,"v":12.2},{"s":"d1","h":18.25,"v":11.3},{"s":"d1","h":18.81,"v":11.6},{"s":"d1","h":19.16,"v":11.1},{"s":"d1","h":19.65,"v":11.1},{"s":"d1","h":19.79,"v":13.3},{"s":"d1","h":20.07,"v":16.2},{"s":"d1","h":20.76,"v":14.2},{"s":"d1","h":21.18,"v":15.6},{"s":"d1","h":21.6,"v":14.2},{"s":"d1","h":21.95,"v":13.3},{"s":"d1","h":22.57,"v":14.2},{"s":"d1","h":23,"v":15.9},{"s":"d1","h":23.47,"v":15},{"s":"d1","h":23.75,"v":15},
{"s":"d2","h":0,"v":0},{"s":"d2","h":0.5,"v":3},{"s":"d2","h":1,"v":2},{"s":"d2","h":1.5,"v":4},{"s":"d2","h":2,"v":3.5},{"s":"d2","h":2.5,"v":5},{"s":"d2","h":3,"v":4},{"s":"d2","h":3.5,"v":6.5},{"s":"d2","h":4,"v":5},{"s":"d2","h":4.5,"v":6},{"s":"d2","h":5,"v":4.5},{"s":"d2","h":5.5,"v":5.5},{"s":"d2","h":6,"v":3.5},{"s":"d2","h":6.5,"v":4},{"s":"d2","h":7,"v":2.5},{"s":"d2","h":7.5,"v":3},{"s":"d2","h":8,"v":1.5},{"s":"d2","h":8.5,"v":2},{"s":"d2","h":9,"v":0.5},{"s":"d2","h":9.5,"v":1},{"s":"d2","h":10,"v":-0.5},{"s":"d2","h":10.5,"v":0},{"s":"d2","h":11,"v":-1.5},{"s":"d2","h":11.5,"v":-1},{"s":"d2","h":12,"v":-2.5},{"s":"d2","h":12.5,"v":-2},{"s":"d2","h":13,"v":-3.5},{"s":"d2","h":13.5,"v":-3},{"s":"d2","h":14,"v":-4.5},{"s":"d2","h":14.5,"v":-4},{"s":"d2","h":15,"v":-5.5},{"s":"d2","h":15.5,"v":-5},{"s":"d2","h":16,"v":-6},{"s":"d2","h":16.5,"v":-5.5},{"s":"d2","h":17,"v":-7},{"s":"d2","h":17.5,"v":-6.5},{"s":"d2","h":18,"v":-8},{"s":"d2","h":18.5,"v":-7},{"s":"d2","h":19,"v":-7.5},{"s":"d2","h":19.5,"v":-6.5},{"s":"d2","h":20,"v":-7.5},{"s":"d2","h":20.5,"v":-6.5},{"s":"d2","h":21,"v":-7.5},{"s":"d2","h":21.5,"v":-8},{"s":"d2","h":22,"v":-7},{"s":"d2","h":22.5,"v":-7.5},{"s":"d2","h":22.7,"v":-6},{"s":"d2","h":23,"v":-3},{"s":"d2","h":23.2,"v":-1},{"s":"d2","h":23.4,"v":3},{"s":"d2","h":23.6,"v":5.5},{"s":"d2","h":23.75,"v":5.7},
{"s":"d3","h":0,"v":0},{"s":"d3","h":0.5,"v":-1},{"s":"d3","h":1,"v":0.5},{"s":"d3","h":1.5,"v":-0.5},{"s":"d3","h":2,"v":1},{"s":"d3","h":2.5,"v":2},{"s":"d3","h":3,"v":1},{"s":"d3","h":3.5,"v":2.5},{"s":"d3","h":4,"v":1.5},{"s":"d3","h":4.5,"v":3},{"s":"d3","h":5,"v":2},{"s":"d3","h":5.5,"v":1},{"s":"d3","h":6,"v":2},{"s":"d3","h":6.5,"v":0.5},{"s":"d3","h":7,"v":1.5},{"s":"d3","h":7.5,"v":0},{"s":"d3","h":8,"v":1},{"s":"d3","h":8.5,"v":-0.5},{"s":"d3","h":9,"v":-1.5},{"s":"d3","h":9.5,"v":-0.5},{"s":"d3","h":10,"v":-2},{"s":"d3","h":10.5,"v":-1},{"s":"d3","h":11,"v":-2.5},{"s":"d3","h":11.5,"v":-1.5},{"s":"d3","h":12,"v":-3},{"s":"d3","h":12.5,"v":-2},{"s":"d3","h":13,"v":-4},{"s":"d3","h":13.5,"v":-3},{"s":"d3","h":14,"v":-5},{"s":"d3","h":14.5,"v":-4},{"s":"d3","h":15,"v":-3},{"s":"d3","h":15.5,"v":-4.5},{"s":"d3","h":16,"v":-3.5},{"s":"d3","h":16.5,"v":-5},{"s":"d3","h":17,"v":-4},{"s":"d3","h":17.5,"v":-5.5},{"s":"d3","h":18,"v":-4.5},{"s":"d3","h":18.5,"v":-6},{"s":"d3","h":19,"v":-5},{"s":"d3","h":19.5,"v":-6.5},{"s":"d3","h":20,"v":-5.5},{"s":"d3","h":20.5,"v":-6.5},{"s":"d3","h":20.76,"v":-7.1},{"s":"d3","h":21.3,"v":-9},{"s":"d3","h":21.8,"v":-10.2},{"s":"d3","h":22,"v":-7.4},{"s":"d3","h":22.5,"v":-7.2},{"s":"d3","h":22.8,"v":-5},{"s":"d3","h":23,"v":-4.5},{"s":"d3","h":23.5,"v":-2},{"s":"d3","h":23.75,"v":-1.5},
{"s":"r1","h":0,"v":0},{"s":"r1","h":0.5,"v":-1},{"s":"r1","h":1,"v":-1.5},{"s":"r1","h":1.5,"v":-1},{"s":"r1","h":2,"v":-2.5},{"s":"r1","h":2.5,"v":-2},{"s":"r1","h":3,"v":-3},{"s":"r1","h":3.5,"v":-3.5},{"s":"r1","h":4,"v":-3},{"s":"r1","h":4.5,"v":-4.5},{"s":"r1","h":5,"v":-4.5},{"s":"r1","h":5.5,"v":-5.5},{"s":"r1","h":6,"v":-5},{"s":"r1","h":6.5,"v":-6.5},{"s":"r1","h":7,"v":-6.5},{"s":"r1","h":7.54,"v":-7.4},{"s":"r1","h":8.38,"v":-9.4},{"s":"r1","h":9,"v":-11.1},{"s":"r1","h":9.77,"v":-12.8},{"s":"r1","h":10.26,"v":-12.8},{"s":"r1","h":10.53,"v":-12.3},{"s":"r1","h":10.81,"v":-12.3},{"s":"r1","h":11.02,"v":-11.9},{"s":"r1","h":11.3,"v":-12.5},{"s":"r1","h":11.58,"v":-13.6},{"s":"r1","h":11.79,"v":-12.5},{"s":"r1","h":12.27,"v":-14.3},{"s":"r1","h":12.69,"v":-14.6},{"s":"r1","h":13.04,"v":-14.4},{"s":"r1","h":13.25,"v":-13.6},{"s":"r1","h":13.73,"v":-15.5},{"s":"r1","h":13.97,"v":-14.4},{"s":"r1","h":14.71,"v":-16.6},{"s":"r1","h":14.98,"v":-14.9},{"s":"r1","h":15.4,"v":-16.5},{"s":"r1","h":15.89,"v":-18},{"s":"r1","h":16.86,"v":-20.6},{"s":"r1","h":17.28,"v":-21.6},{"s":"r1","h":17.77,"v":-23.4},{"s":"r1","h":18.25,"v":-21.9},{"s":"r1","h":18.74,"v":-23.4},{"s":"r1","h":19.09,"v":-22},{"s":"r1","h":19.3,"v":-22},{"s":"r1","h":19.65,"v":-23},{"s":"r1","h":20.07,"v":-24},{"s":"r1","h":20.27,"v":-24.2},{"s":"r1","h":20.55,"v":-21.6},{"s":"r1","h":20.76,"v":-20.9},{"s":"r1","h":21.73,"v":-24.7},{"s":"r1","h":22.01,"v":-23.3},{"s":"r1","h":22.26,"v":-23.3},{"s":"r1","h":22.5,"v":-18.5},{"s":"r1","h":22.73,"v":-17.7},{"s":"r1","h":23.26,"v":-19.6},{"s":"r1","h":23.75,"v":-20.4},
{"s":"r2","h":0,"v":0},{"s":"r2","h":0.5,"v":1},{"s":"r2","h":1,"v":-0.5},{"s":"r2","h":1.5,"v":1.5},{"s":"r2","h":2,"v":0.5},{"s":"r2","h":2.5,"v":2},{"s":"r2","h":3,"v":1},{"s":"r2","h":3.5,"v":0},{"s":"r2","h":4,"v":1.5},{"s":"r2","h":4.5,"v":0.5},{"s":"r2","h":5,"v":-1},{"s":"r2","h":5.5,"v":0},{"s":"r2","h":6,"v":-1.5},{"s":"r2","h":6.5,"v":-1},{"s":"r2","h":7,"v":-2.5},{"s":"r2","h":7.5,"v":-1.5},{"s":"r2","h":8,"v":-3},{"s":"r2","h":8.5,"v":-2},{"s":"r2","h":9,"v":-3.5},{"s":"r2","h":9.5,"v":-2.5},{"s":"r2","h":10,"v":-1},{"s":"r2","h":10.5,"v":0.5},{"s":"r2","h":11,"v":5},{"s":"r2","h":11.3,"v":6},{"s":"r2","h":11.5,"v":5.5},{"s":"r2","h":12,"v":4.5},{"s":"r2","h":12.5,"v":3.5},{"s":"r2","h":13,"v":2.5},{"s":"r2","h":13.5,"v":1.5},{"s":"r2","h":14,"v":1},{"s":"r2","h":14.5,"v":0},{"s":"r2","h":15,"v":-0.5},{"s":"r2","h":15.5,"v":-1.5},{"s":"r2","h":16,"v":-2.5},{"s":"r2","h":16.5,"v":-1.5},{"s":"r2","h":17,"v":-3},{"s":"r2","h":17.5,"v":-2},{"s":"r2","h":18,"v":-4},{"s":"r2","h":18.5,"v":-3},{"s":"r2","h":19,"v":-4.5},{"s":"r2","h":19.5,"v":-3.5},{"s":"r2","h":20,"v":-2},{"s":"r2","h":20.5,"v":-3},{"s":"r2","h":21,"v":-1.5},{"s":"r2","h":21.5,"v":-2.5},{"s":"r2","h":22,"v":-1},{"s":"r2","h":22.5,"v":-2},{"s":"r2","h":23,"v":-1},{"s":"r2","h":23.5,"v":-2},{"s":"r2","h":23.75,"v":-1.5},
{"s":"r3","h":0,"v":0},{"s":"r3","h":0.5,"v":1},{"s":"r3","h":1,"v":2.5},{"s":"r3","h":1.5,"v":3},{"s":"r3","h":1.65,"v":3.1},{"s":"r3","h":1.77,"v":12.2},{"s":"r3","h":2.19,"v":11.9},{"s":"r3","h":2.82,"v":10.8},{"s":"r3","h":3.37,"v":9.4},{"s":"r3","h":3.79,"v":8.2},{"s":"r3","h":4.2,"v":7.4},{"s":"r3","h":4.6,"v":6.5},{"s":"r3","h":5,"v":7},{"s":"r3","h":5.5,"v":6},{"s":"r3","h":6,"v":5},{"s":"r3","h":6.5,"v":5.5},{"s":"r3","h":7,"v":4.5},{"s":"r3","h":7.5,"v":5},{"s":"r3","h":8,"v":4},{"s":"r3","h":8.5,"v":4.5},{"s":"r3","h":9,"v":3.5},{"s":"r3","h":9.5,"v":5},{"s":"r3","h":10,"v":6},{"s":"r3","h":10.5,"v":5.5},{"s":"r3","h":11,"v":4.5},{"s":"r3","h":11.5,"v":5},{"s":"r3","h":12,"v":3.5},{"s":"r3","h":12.5,"v":2.5},{"s":"r3","h":13,"v":2},{"s":"r3","h":13.5,"v":0.5},{"s":"r3","h":14,"v":0},{"s":"r3","h":14.5,"v":-1},{"s":"r3","h":15,"v":-1.5},{"s":"r3","h":15.5,"v":-2.5},{"s":"r3","h":16,"v":-3},{"s":"r3","h":16.5,"v":-4},{"s":"r3","h":17,"v":-3.5},{"s":"r3","h":17.5,"v":-5},{"s":"r3","h":18,"v":-4.5},{"s":"r3","h":18.5,"v":-6},{"s":"r3","h":19,"v":-5.5},{"s":"r3","h":19.5,"v":-7},{"s":"r3","h":20,"v":-6.5},{"s":"r3","h":20.5,"v":-8},{"s":"r3","h":21,"v":-7},{"s":"r3","h":21.5,"v":-9},{"s":"r3","h":22,"v":-8},{"s":"r3","h":22.5,"v":-10},{"s":"r3","h":23,"v":-6},{"s":"r3","h":23.3,"v":-3},{"s":"r3","h":23.5,"v":-4},{"s":"r3","h":23.75,"v":-3.5},
{"s":"rf","h":0,"v":0},{"s":"rf","h":0.5,"v":1.5},{"s":"rf","h":1,"v":0.5},{"s":"rf","h":1.5,"v":-1},{"s":"rf","h":2,"v":0.5},{"s":"rf","h":2.5,"v":-0.5},{"s":"rf","h":3,"v":-1.5},{"s":"rf","h":3.5,"v":-0.5},{"s":"rf","h":4,"v":-1},{"s":"rf","h":4.3,"v":0},{"s":"rf","h":23.75,"v":0},
{"s":"m1","h":0,"v":0},{"s":"m1","h":0.35,"v":0},{"s":"m1","h":3.1,"v":0},{"s":"m1","h":3.3,"v":5},{"s":"m1","h":3.6,"v":8},{"s":"m1","h":3.85,"v":11.1},{"s":"m1","h":4.06,"v":15.3},{"s":"m1","h":4.4,"v":14.7},{"s":"m1","h":5.04,"v":15.6},{"s":"m1","h":5.59,"v":14.5},{"s":"m1","h":6.15,"v":13},{"s":"m1","h":6.84,"v":12.5},{"s":"m1","h":7.4,"v":11.3},{"s":"m1","h":7.96,"v":11.1},{"s":"m1","h":8.38,"v":11.3},{"s":"m1","h":9.07,"v":10.2},{"s":"m1","h":9.9,"v":8.2},{"s":"m1","h":10.74,"v":8.5},{"s":"m1","h":11.3,"v":7.4},{"s":"m1","h":11.99,"v":6.8},{"s":"m1","h":12.83,"v":5.4},{"s":"m1","h":13.38,"v":6.2},{"s":"m1","h":13.94,"v":6.8},{"s":"m1","h":14.36,"v":7.9},{"s":"m1","h":14.78,"v":6.8},{"s":"m1","h":15.33,"v":7.7},{"s":"m1","h":15.89,"v":6.5},{"s":"m1","h":16.3,"v":5.7},{"s":"m1","h":16.8,"v":6.5},{"s":"m1","h":17.3,"v":5},{"s":"m1","h":17.8,"v":4},{"s":"m1","h":18.3,"v":3},{"s":"m1","h":18.8,"v":2.5},{"s":"m1","h":19.3,"v":2},{"s":"m1","h":19.8,"v":1.5},{"s":"m1","h":20.3,"v":0.5},{"s":"m1","h":20.8,"v":-0.5},{"s":"m1","h":21.3,"v":0},{"s":"m1","h":21.8,"v":-0.5},{"s":"m1","h":22.3,"v":0.5},{"s":"m1","h":22.8,"v":-1},{"s":"m1","h":23.3,"v":0},{"s":"m1","h":23.75,"v":-0.5},
{"s":"m3","h":0,"v":0},{"s":"m3","h":0.35,"v":0},{"s":"m3","h":4.4,"v":0},{"s":"m3","h":4.6,"v":-2},{"s":"m3","h":5.2,"v":-1},{"s":"m3","h":5.7,"v":-3},{"s":"m3","h":6.2,"v":-1},{"s":"m3","h":6.7,"v":-3},{"s":"m3","h":7.2,"v":-2},{"s":"m3","h":7.7,"v":-4},{"s":"m3","h":8.2,"v":-3},{"s":"m3","h":8.7,"v":-5},{"s":"m3","h":9.2,"v":-4},{"s":"m3","h":9.7,"v":-3},{"s":"m3","h":10.2,"v":-4.5},{"s":"m3","h":10.7,"v":-3.5},{"s":"m3","h":11.2,"v":-2},{"s":"m3","h":11.7,"v":-3},{"s":"m3","h":12.2,"v":-1.5},{"s":"m3","h":12.7,"v":-2.5},{"s":"m3","h":13.2,"v":-1},{"s":"m3","h":13.7,"v":-2},{"s":"m3","h":14.2,"v":-0.5},{"s":"m3","h":14.7,"v":-1.5},{"s":"m3","h":15.2,"v":-3},{"s":"m3","h":15.7,"v":-2.5},{"s":"m3","h":16.2,"v":-4},{"s":"m3","h":16.7,"v":-3},{"s":"m3","h":17.2,"v":-4.5},{"s":"m3","h":17.7,"v":-3.5},{"s":"m3","h":18.2,"v":-5},{"s":"m3","h":18.7,"v":-4},{"s":"m3","h":19.2,"v":-5.5},{"s":"m3","h":19.7,"v":-4.5},{"s":"m3","h":20.2,"v":-3},{"s":"m3","h":20.7,"v":-4},{"s":"m3","h":21.2,"v":-2.5},{"s":"m3","h":21.7,"v":-3.5},{"s":"m3","h":22.2,"v":-2},{"s":"m3","h":22.7,"v":-3},{"s":"m3","h":23.2,"v":-1.5},{"s":"m3","h":23.75,"v":-1}
]},
"layer": [
  {
    "mark": {"type": "line", "strokeWidth": 1, "clip": true},
    "encoding": {
      "x": {"field": "h", "type": "quantitative", "scale": {"domain": [0, 23.75], "nice": false, "zero": false},
            "axis": {"orient": "bottom", "values": [0,1,2,3,4,5,6,7,8,9,10,11,12,13,14,15,16,17,18,19,20,21,22,23], "title": "Hour of Day", "labelPadding": 11, "titlePadding": 5}},
      "y": {"field": "v", "type": "quantitative", "scale": {"domain": [-30, 40], "nice": false, "zero": false},
            "axis": {"orient": "left", "values": [-30,-20,-10,0,10,20,30,40], "title": "Cumulative (Z*Z)-1", "labelPadding": 18, "titlePadding": 0}},
      "color": {"field": "s", "type": "nominal", "legend": null,
        "scale": {"domain": ["c1","c2","c3","y1","y2","y3","g1","g2","g3","g4","b1","b2","b3","b4","l1","l2","l3","m2","m4","d1","d2","d3","r1","r2","r3","rf","m1","m3"],
                  "range": ["#00ffff","#00ffff","#00ffff","#ffff00","#ffff00","#ffff00","#00a000","#00a000","#00a000","#00a000","#0000ff","#0000ff","#0000ff","#0000ff","#6060ff","#6060ff","#6060ff","#ff40ff","#ff40ff","#a00000","#a00000","#a00000","#ff0000","#ff0000","#ff0000","#ff0000","#ff40ff","#ff40ff"]}}
    }
  },
  {
    "mark": {"type": "line", "opacity": 0},
    "encoding": {
      "x": {"field": "h", "type": "quantitative", "axis": {"orient": "top", "values": [0,1,2,3,4,5,6,7,8,9,10,11,12,13,14,15,16,17,18,19,20,21,22,23], "labels": false, "title": null}},
      "y": {"field": "v", "type": "quantitative", "axis": {"orient": "right", "values": [-30,-20,-10,0,10,20,30,40], "labels": false, "title": null}}
    }
  }
],
"resolve": {"axis": {"x": "independent", "y": "independent"}}
}
